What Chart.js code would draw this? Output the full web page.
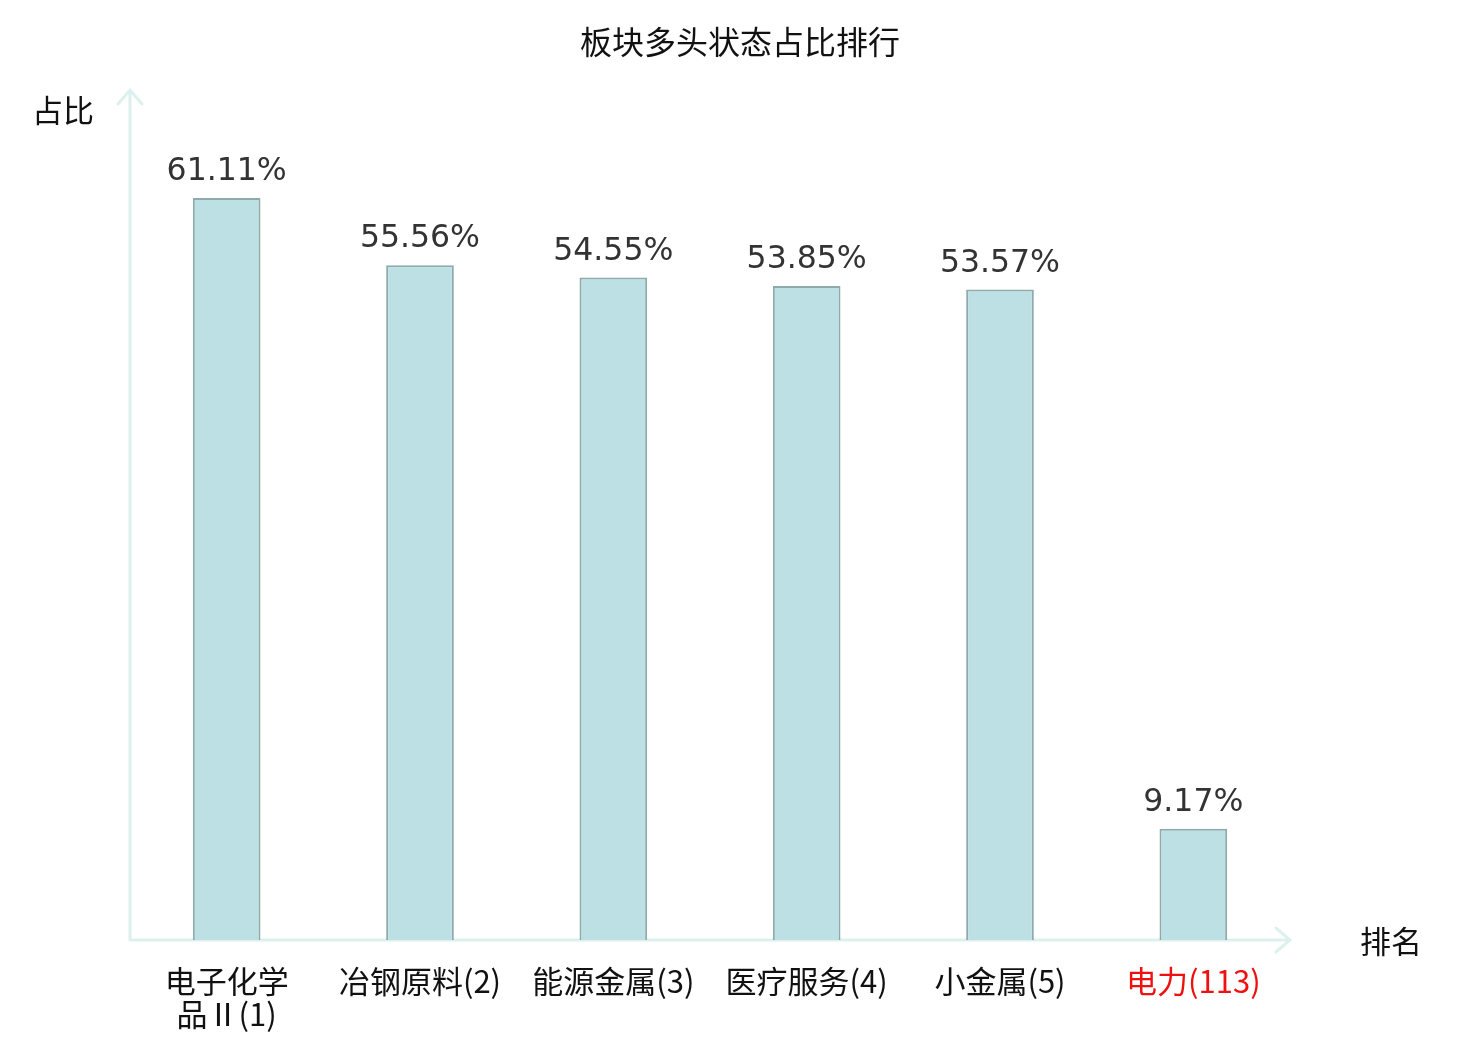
<!DOCTYPE html>
<html lang="zh">
<head>
    <meta charset="UTF-8">
    <title>板块多头状态占比排行</title>
    <script src="https://cdn.jsdelivr.net/npm/chart.js"></script>
    <style>
        body { margin: 0; background: #ffffff; }
        .chart-box { width: 1480px; height: 1040px; }
    </style>
</head>
<body>
    <div class="chart-box">
        <canvas id="zhanbi"></canvas>
    </div>

    <script>
        // 数据
        const sectors = [['电子化学', '品Ⅱ(1)'], '冶钢原料(2)', '能源金属(3)', '医疗服务(4)', '小金属(5)', '电力(113)'];
        const ratios = [61.11, 55.56, 54.55, 53.85, 53.57, 9.17];
        const highlightIndex = 5;

        const axisColor = '#dcf1ee';
        const cjkFont = "'Noto Sans CJK SC', 'DejaVu Sans', sans-serif";

        // 坐标轴箭头、标题、数值标签
        const decor = {
            id: 'decor',
            beforeDatasetsDraw(chart) {
                const { ctx, chartArea } = chart;
                const x0 = chartArea.left, y0 = chartArea.bottom;
                ctx.save();
                ctx.strokeStyle = axisColor;
                ctx.lineWidth = 3;
                ctx.lineCap = 'round';
                ctx.beginPath();
                ctx.moveTo(x0, y0);
                ctx.lineTo(x0, chartArea.top);
                ctx.moveTo(x0 - 12, chartArea.top + 14);
                ctx.lineTo(x0, chartArea.top);
                ctx.lineTo(x0 + 12, chartArea.top + 14);
                ctx.moveTo(x0, y0);
                ctx.lineTo(chartArea.right, y0);
                ctx.moveTo(chartArea.right - 14, y0 - 12);
                ctx.lineTo(chartArea.right, y0);
                ctx.lineTo(chartArea.right - 14, y0 + 12);
                ctx.stroke();
                ctx.restore();
            },
            afterDatasetsDraw(chart) {
                const { ctx } = chart;
                ctx.save();
                ctx.textAlign = 'center';
                ctx.textBaseline = 'middle';
                ctx.fillStyle = '#111';
                ctx.font = '32px ' + cjkFont;
                ctx.fillText('板块多头状态占比排行', 740, 42);
                ctx.font = '31px ' + cjkFont;
                ctx.fillText('占比', 63, 110);
                ctx.fillText('排名', 1391, 941);

                ctx.fillStyle = '#333';
                ctx.font = '31.5px "DejaVu Sans", sans-serif';
                ctx.textBaseline = 'alphabetic';
                const meta = chart.getDatasetMeta(0);
                meta.data.forEach((bar, i) => {
                    ctx.fillText(ratios[i].toFixed(2) + '%', bar.x, bar.y - 18);
                });
                ctx.restore();
            }
        };

        const ctx = document.getElementById('zhanbi').getContext('2d');
        new Chart(ctx, {
            type: 'bar',
            data: {
                labels: sectors,
                datasets: [{
                    data: ratios,
                    backgroundColor: '#bce0e3',
                    borderColor: '#8eaaaa',
                    borderWidth: 2,
                    borderSkipped: 'bottom',
                    barPercentage: 0.35,
                    categoryPercentage: 1
                }]
            },
            options: {
                responsive: true,
                maintainAspectRatio: false,
                animation: false,
                layout: {
                    padding: { left: 130, right: 190, top: 90, bottom: 0 }
                },
                plugins: {
                    legend: { display: false },
                    title: { display: false },
                    tooltip: { enabled: false }
                },
                scales: {
                    x: {
                        grid: { display: false, drawTicks: false },
                        border: { display: false },
                        afterFit(scale) { scale.height = 100; },
                        ticks: {
                            autoSkip: false,
                            maxRotation: 0,
                            padding: 25,
                            font: { size: 31, family: cjkFont, lineHeight: 1.05 },
                            color: (c) => c.index === highlightIndex ? '#ee1111' : '#111'
                        }
                    },
                    y: {
                        display: false,
                        min: 0,
                        max: 70
                    }
                }
            },
            plugins: [decor]
        });
    </script>
</body>
</html>
